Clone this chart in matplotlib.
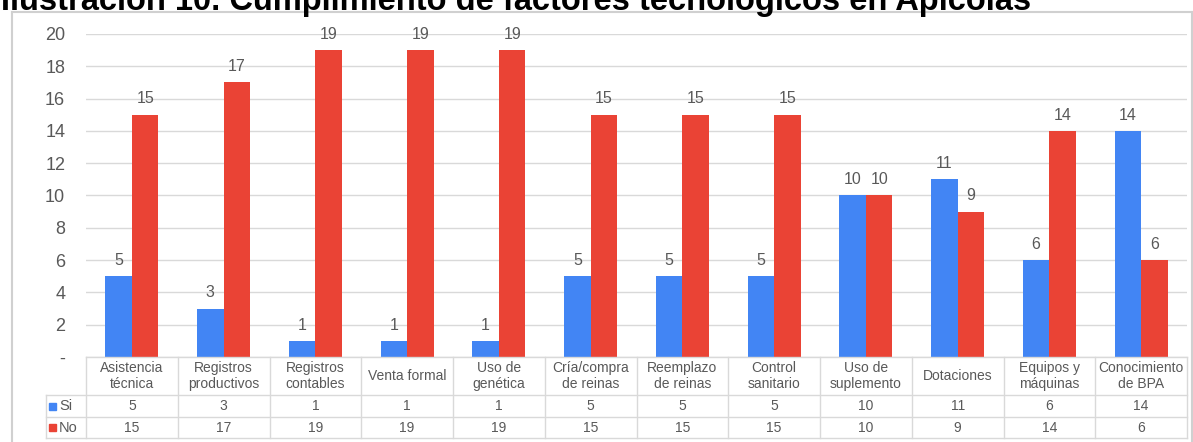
import matplotlib
matplotlib.use("Agg")
import matplotlib.pyplot as plt
from matplotlib.transforms import blended_transform_factory
from matplotlib.lines import Line2D
from matplotlib.patches import Rectangle
import numpy as np

categories = ["Asistencia\ntécnica", "Registros\nproductivos", "Registros\ncontables",
              "Venta formal", "Uso de\ngenética", "Cría/compra\nde reinas",
              "Reemplazo\nde reinas", "Control\nsanitario", "Uso de\nsuplemento",
              "Dotaciones", "Equipos y\nmáquinas", "Conocimiento\nde BPA"]
si_values = [5, 3, 1, 1, 1, 5, 5, 5, 10, 11, 6, 14]
no_values = [15, 17, 19, 19, 19, 15, 15, 15, 10, 9, 14, 6]
series_names = ["Si", "No"]
y_ticks = [0, 2, 4, 6, 8, 10, 12, 14, 16, 18, 20]
title = "Ilustración 10. Cumplimiento de factores tecnológicos en Apícolas"

BLUE = "#4285F4"
RED = "#EA4335"
TEXT = "#595959"
GRID = "#D9D9D9"

plt.rcParams['font.family'] = ['Liberation Sans', 'DejaVu Sans']

W, H = 1193, 442
fig = plt.figure(figsize=(W / 100, H / 100), dpi=100)

def fx(px):
    return px / W

def fy(py):
    return 1 - py / H

left_px, right_px, top_px, zero_px = 86, 1187, 34, 357
ax = fig.add_axes([fx(left_px), fy(zero_px), fx(right_px - left_px), (zero_px - top_px) / H])

x = np.arange(len(categories))
bw = 0.29
bars_si = ax.bar(x - bw / 2, si_values, bw, color=BLUE, zorder=3)
bars_no = ax.bar(x + bw / 2, no_values, bw, color=RED, zorder=3)

for bars, vals in ((bars_si, si_values), (bars_no, no_values)):
    for b, v in zip(bars, vals):
        ax.annotate(str(v), (b.get_x() + b.get_width() / 2, v), xytext=(0, 6),
                    textcoords="offset points", ha="center", va="bottom",
                    fontsize=11.5, color=TEXT, clip_on=False)

ax.set_xlim(-0.5, len(categories) - 0.5)
ax.set_ylim(0, 20)
ax.set_yticks(y_ticks)
ax.set_yticklabels(["-" if t == 0 else str(t) for t in y_ticks], fontsize=13, color=TEXT)
ax.tick_params(axis="y", length=0, pad=15)
ax.set_xticks([])
for s in ax.spines.values():
    s.set_visible(False)
ax.grid(axis="y", color=GRID, linewidth=1, zorder=0)
ax.set_axisbelow(True)

# data table under the plot
bt = blended_transform_factory(ax.transData, fig.transFigure)
row_top, row_cat, row_si, row_no = 357, 395, 417, 438
line_kw = dict(color=GRID, linewidth=1)

fig.add_artist(Line2D([fx(left_px), fx(right_px)], [fy(row_top)] * 2, **line_kw))
for r in (row_cat, row_si, row_no):
    fig.add_artist(Line2D([fx(46), fx(right_px)], [fy(r)] * 2, **line_kw))
fig.add_artist(Line2D([fx(46), fx(46)], [fy(row_cat), fy(row_no)], **line_kw))
for i in range(len(categories) + 1):
    fig.add_artist(Line2D([i - 0.5, i - 0.5], [fy(row_top), fy(row_no)], transform=bt, **line_kw))

for i, cat in enumerate(categories):
    fig.text(i, fy((row_top + row_cat) / 2), cat, transform=bt, ha="center", va="center",
             fontsize=10, color=TEXT, linespacing=1.1)
    fig.text(i, fy((row_cat + row_si) / 2), str(si_values[i]), transform=bt,
             ha="center", va="center", fontsize=10, color=TEXT)
    fig.text(i, fy((row_si + row_no) / 2), str(no_values[i]), transform=bt,
             ha="center", va="center", fontsize=10, color=TEXT)

for (r0, r1), name, col in (((row_cat, row_si), series_names[0], BLUE),
                            ((row_si, row_no), series_names[1], RED)):
    cy = (r0 + r1) / 2
    fig.add_artist(Rectangle((fx(49), fy(cy + 3.5)), fx(7), 7 / H, color=col,
                             transform=fig.transFigure))
    fig.text(fx(59), fy(cy), name, ha="left", va="center", fontsize=10.5, color=TEXT)

# outer chart border
border_kw = dict(color="#D0D0D0", linewidth=1.5)
fig.add_artist(Line2D([fx(12), fx(12)], [fy(12), 0], **border_kw))
fig.add_artist(Line2D([fx(12), fx(1192)], [fy(12)] * 2, **border_kw))
fig.add_artist(Line2D([fx(1192), fx(1192)], [fy(12), 0], **border_kw))

fig.text(fx(1), fy(10), title, ha="left", va="baseline", fontsize=23.5,
         fontweight="bold", color="black")

fig.savefig("out.png", dpi=100)
